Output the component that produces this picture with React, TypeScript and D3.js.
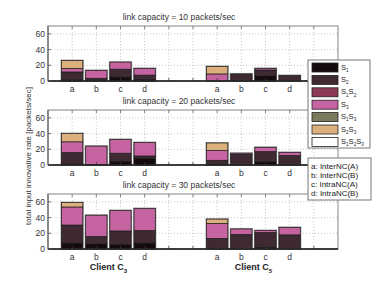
import React from 'react';
import * as d3 from 'd3';

// one panel per link capacity
const capacities = [10, 20, 30];
const schemes = ['a', 'b', 'c', 'd'];
const clients = ['3', '5'];
const schemeNames = ['a: InterNC(A)', 'b: InterNC(B)', 'c: IntraNC(A)', 'd: IntraNC(B)'];

const seriesKeys = ['S1', 'S2', 'S1S2', 'S3', 'S1S3', 'S2S3', 'S1S2S3'];
const seriesColors = ['#150b0f', '#3f2a33', '#8c3a55', '#c564a0', '#7b7a5e', '#dcb07c', '#ffffff'];

// values per panel: C3 a..d, then C5 a..d
const S1 = [
  [1.5, 1, 5, 2, 0, 0, 6.5, 0],
  [1.5, 0, 4.5, 8.5, 0, 0, 4, 0],
  [7.5, 6.5, 5.5, 7.5, 0, 0, 2, 0],
];
const S2 = [
  [10, 2.5, 10, 5.5, 0, 9, 7.5, 7],
  [14.5, 0.5, 10.5, 3, 6, 13.5, 13, 12],
  [23, 9.5, 17.5, 16, 13.5, 18.5, 19, 18],
];
const S1S2 = [
  [0, 0, 0, 0, 0, 0, 0, 0],
  [0, 0, 0, 0, 0, 0, 0, 0],
  [0, 0, 0, 0, 0, 0, 0, 0],
];
const S3 = [
  [4.5, 10, 9, 8.5, 9, 0, 2, 0],
  [13.5, 23.5, 17.5, 17, 12.5, 1.5, 5.5, 4],
  [23, 27, 26, 28, 19, 7, 2.5, 9.5],
];
const S1S3 = [
  [0, 0, 0, 0, 0, 0, 0, 0],
  [0, 0, 0, 0, 0, 0, 0, 0],
  [0, 0, 0, 0, 0, 0, 0, 0],
];
const S2S3 = [
  [10, 0, 0, 0, 9.5, 0, 0, 0],
  [10.5, 0, 0, 0, 9.5, 0, 0, 0],
  [5.5, 0, 0, 0, 5.5, 0, 0, 0],
];
const S1S2S3 = [
  [0, 0, 0, 0, 0, 0, 0, 0],
  [0, 0, 0, 0, 0, 0, 0, 0],
  [0, 0, 0, 0, 0, 0, 0, 0],
];
const seriesValues = [S1, S2, S1S2, S3, S1S3, S2S3, S1S2S3];

const yTicks = [0, 20, 40, 60];
const xTicks = [1, 2, 3, 4, 5, 6, 7, 8, 9, 10, 11];
// category positions on the shared x axis
const barPos = [1, 2, 3, 4, 7, 8, 9, 10];

const font = 'Liberation Sans, Arial, sans-serif';
const W = 374;
const H = 281;
const left = 48;
const right = 338;
const panelTops = [26, 110, 194];
const panelH = 55;

const x = d3.scaleLinear().domain([0, 12]).range([left, right]);
const barW = (x(1) - x(0)) * 0.88;

// "S1S2" -> S with subscript digits
const Subs = ({ label, size }: { label: string; size: number }) => {
  const parts = label.match(/S\d/g) || [];
  const off = size * 0.3;
  return (
    <>
      {parts.map((p, i) => (
        <React.Fragment key={i}>
          <tspan dy={i === 0 ? 0 : -off}>S</tspan>
          <tspan fontSize={size * 0.62} dy={off}>{p[1]}</tspan>
        </React.Fragment>
      ))}
    </>
  );
};

const Panel = ({ idx }: { idx: number }) => {
  const top = panelTops[idx];
  const y = d3.scaleLinear().domain([0, 70]).range([top + panelH, top]);
  const rows = barPos.map((p, i) => {
    const r: any = { pos: p };
    seriesKeys.forEach((k, s) => { r[k] = seriesValues[s][idx][i]; });
    return r;
  });
  const stacked = d3.stack<any>().keys(seriesKeys)(rows);
  const totals = rows.map(r => d3.sum(seriesKeys, k => r[k]));

  return (
    <g>
      <text x={179} y={top - 6} textAnchor="middle" fontSize={8.5} fill="#333" fontFamily={font}>
        link capacity = {capacities[idx]} packets/sec
      </text>
      {/* grid */}
      {yTicks.slice(1).map(t => (
        <line key={'gy' + t} x1={left} x2={right} y1={y(t)} y2={y(t)} stroke="#bbb" strokeWidth={0.8} strokeDasharray="1,2" />
      ))}
      {xTicks.map(t => (
        <line key={'gx' + t} x1={x(t)} x2={x(t)} y1={top} y2={top + panelH} stroke="#bbb" strokeWidth={0.8} strokeDasharray="1,2" />
      ))}
      {/* bar outlines */}
      {rows.map((r, i) => (
        <rect key={'o' + i} x={x(r.pos) - barW / 2} y={y(totals[i])} width={barW} height={y(0) - y(totals[i])}
          fill="none" stroke="#999" strokeWidth={2} />
      ))}
      {stacked.map((layer, s) =>
        layer.map((d, i) => (d[1] - d[0] > 0 ? (
          <rect key={s + '-' + i} x={x(rows[i].pos) - barW / 2} y={y(d[1])} width={barW} height={y(d[0]) - y(d[1])}
            fill={seriesColors[s]} stroke="#1a1a1a" strokeWidth={0.7} />
        ) : null))
      )}
      {/* frame */}
      <rect x={left} y={top} width={right - left} height={panelH} fill="none" stroke="#999" strokeWidth={1.2} />
      <line x1={left} x2={right} y1={y(0)} y2={y(0)} stroke="#111" strokeWidth={1.3} />
      <line x1={left} x2={left} y1={top} y2={y(0)} stroke="#555" strokeWidth={1} />
      {xTicks.map(t => (
        <g key={'t' + t}>
          <line x1={x(t)} x2={x(t)} y1={top} y2={top + 3} stroke="#666" strokeWidth={0.8} />
          <line x1={x(t)} x2={x(t)} y1={y(0)} y2={y(0) - 3} stroke="#333" strokeWidth={0.8} />
        </g>
      ))}
      {yTicks.map(t => (
        <g key={'yt' + t}>
          <line x1={left} x2={left + 3} y1={y(t)} y2={y(t)} stroke="#555" strokeWidth={0.8} />
          <text x={left - 3} y={y(t) + 3} textAnchor="end" fontSize={8.5} fill="#333" fontFamily={font}>{t}</text>
        </g>
      ))}
      {barPos.map((p, i) => (
        <text key={'xl' + i} x={x(p)} y={y(0) + 11} textAnchor="middle" fontSize={8.5} fill="#333" fontFamily={font}>
          {schemes[i % 4]}
        </text>
      ))}
    </g>
  );
};

const App = () => {
  const legX = 308;
  const legY = 60;
  const rowH = 12.4;
  return (
    <svg width={W} height={H} style={{ position: 'absolute', left: 0, top: 0, background: '#fff' }}>
      {capacities.map((_c, i) => <Panel key={i} idx={i} />)}

      <text transform="translate(31,156) rotate(-90)" textAnchor="middle" fontSize={8} fill="#333" fontFamily={font}>
        total input innovative rate [packets/sec]
      </text>

      {clients.map((c, i) => (
        <text key={c} x={(x(barPos[i * 4]) + x(barPos[i * 4 + 3])) / 2} y={270} textAnchor="middle"
          fontSize={9} fontWeight="bold" fill="#222" fontFamily={font}>
          Client C<tspan fontSize={6} dy={2.5}>{c}</tspan>
        </text>
      ))}

      {/* series legend */}
      <rect x={legX} y={legY} width={62} height={88} fill="#fff" stroke="#777" strokeWidth={1} />
      {seriesKeys.map((k, i) => (
        <g key={k}>
          <rect x={legX + 4} y={legY + 3 + i * rowH} width={26} height={9} fill={seriesColors[i]} stroke="#222" strokeWidth={0.8} />
          <text x={legX + 33} y={legY + 9.5 + i * rowH} fontSize={7.5} fill="#222" fontFamily={font}>
            <Subs label={k} size={7.5} />
          </text>
        </g>
      ))}

      {/* scheme legend */}
      <rect x={legX} y={158} width={63} height={42} fill="#fff" stroke="#777" strokeWidth={1} />
      {schemeNames.map((s, i) => (
        <text key={s} x={legX + 3} y={169 + i * 9.1} fontSize={8} fill="#222" fontFamily={font}>{s}</text>
      ))}
    </svg>
  );
};

export default App;
